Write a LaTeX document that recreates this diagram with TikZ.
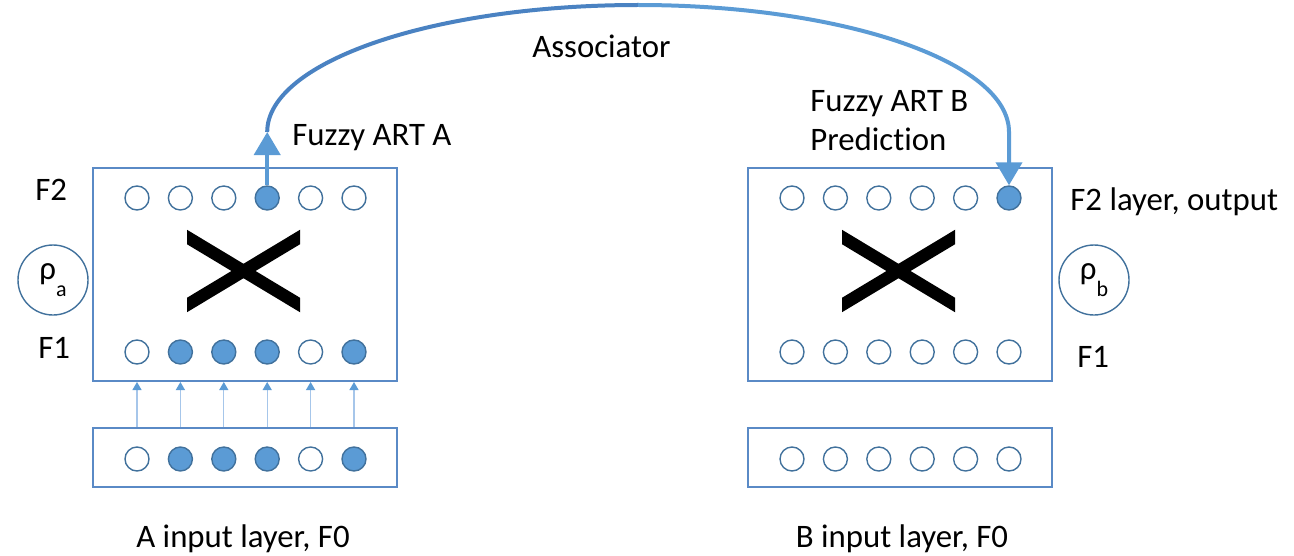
\documentclass[tikz,border=0pt]{standalone}
\usepackage{fontspec}
\setmainfont{Carlito}[Ligatures=NoCommon]
\usetikzlibrary{arrows.meta, positioning}

\definecolor{cellfill}{HTML}{5B9BD5}
\definecolor{celledge}{HTML}{41719C}
\definecolor{boxedge}{HTML}{5A8AC6}
\definecolor{feedline}{HTML}{A6C6EA}
\definecolor{assocdark}{HTML}{4A82C2}

\tikzset{
    cell/.style={circle, draw=celledge, line width=0.7pt, minimum size=12pt, inner sep=0pt},
    fired/.style={cell, fill=cellfill},
    layerbox/.style={draw=boxedge, line width=1pt, inner sep=0pt, minimum width=152pt},
    vigil/.style={circle, draw=celledge, line width=0.7pt, minimum size=35pt, inner sep=0pt},
    feed/.style={draw=feedline, line width=0.6pt, -{Triangle[color=cellfill, length=4pt, width=4.5pt]}},
    assoc/.style={draw=cellfill, line width=2pt},
    bigtip/.style={-{Triangle[length=11.5pt, width=13pt]}},
    txt/.style={font=\fontsize{16.4}{19}\selectfont, inner sep=0pt},
}

\begin{document}
\begin{tikzpicture}[x=0.5pt, y=-0.5pt]
    \useasboundingbox (0,0) rectangle (1294,556);

    % layer boxes
    \node[layerbox, minimum height=106.5pt] (boxa) at (245,274.5) {}; % ART a
    \node[layerbox, minimum height=29.5pt] (boxa0) at (245,457.5) {}; % F0 a
    \node[layerbox, minimum height=106.5pt] (boxb) at (899.5,274.5) {}; % ART b
    \node[layerbox, minimum height=29.5pt] (boxb0) at (899.5,457) {}; % F0 b

    % units, module A
    \foreach \i/\s in {1/cell,2/cell,3/cell,4/fired,5/cell,6/cell}
        \node[\s] (a2-\i) at ({93.6+43.4*\i},198) {};
    \foreach \i/\s in {1/cell,2/fired,3/fired,4/fired,5/cell,6/fired}
        \node[\s] (a1-\i) at ({93.6+43.4*\i},352) {};
    \foreach \i/\s in {1/cell,2/fired,3/fired,4/fired,5/cell,6/fired}
        \node[\s] (a0-\i) at ({93.6+43.4*\i},459) {};

    % units, module B
    \foreach \i/\s in {1/cell,2/cell,3/cell,4/cell,5/cell,6/fired}
        \node[\s] (b2-\i) at ({748.6+43.4*\i},198) {};
    \foreach \i in {1,...,6}
        \node[cell] (b1-\i) at ({748.6+43.4*\i},352) {};
    \foreach \i in {1,...,6}
        \node[cell] (b0-\i) at ({748.6+43.4*\i},459) {};

    % full connection between F1 and F2
    \foreach \dx in {0,655} {
        \begin{scope}[shift={(\dx,0)}]
            \clip (187,220) rectangle (300,320);
            \draw[line width=6.2pt] (180,232.8) -- (307,309.2);
            \draw[line width=6.2pt] (180,309.2) -- (307,232.8);
        \end{scope}
    }

    % vigilance
    \node[vigil, txt] (rhoa) at (53,280) {ρ\raisebox{-0.5em}{\fontsize{11}{11}\selectfont a}};
    \node[vigil, txt] (rhob) at (1094,280) {ρ\raisebox{-0.5em}{\fontsize{11}{11}\selectfont b}};

    % input feed
    \foreach \i in {1,...,6}
        \draw[feed] (a0-\i |- boxa0.north) -- (a0-\i |- boxa.south);

    % map field
    \coordinate (lift) at (267.2,132);
    \draw[assoc, bigtip] (a2-4.north) -- (lift);
    \draw[assoc, draw=assocdark] (lift) arc[start angle=180, end angle=90, x radius=185.45pt, y radius=63.5pt]
        coordinate (apex);
    \draw[assoc, bigtip] (apex) arc[start angle=90, end angle=0, x radius=185.45pt, y radius=63.5pt]
        -- (b2-6.north);

    % labels
    \node[txt, anchor=base west] (assoclbl) at (532,58) {Associator};
    \node[txt, anchor=base west] (arta) at (292,145) {Fuzzy ART A};
    \node[txt, anchor=base west] (artb) at (810,112) {Fuzzy ART B};
    \node[txt, anchor=base west] (pred) at (810,150) {Prediction};
    \node[txt, anchor=base west] (fa2) at (35,200) {F2};
    \node[txt, anchor=base west] (fa1) at (38,358) {F1};
    \node[txt, anchor=base west] (fb2) at (1070,210) {F2 layer, output};
    \node[txt, anchor=base west] (fb1) at (1077,367) {F1};
    \node[txt, anchor=base] (ina) at (243,547) {A input layer, F0};
    \node[txt, anchor=base] (inb) at (902,547) {B input layer, F0};
\end{tikzpicture}
\end{document}
